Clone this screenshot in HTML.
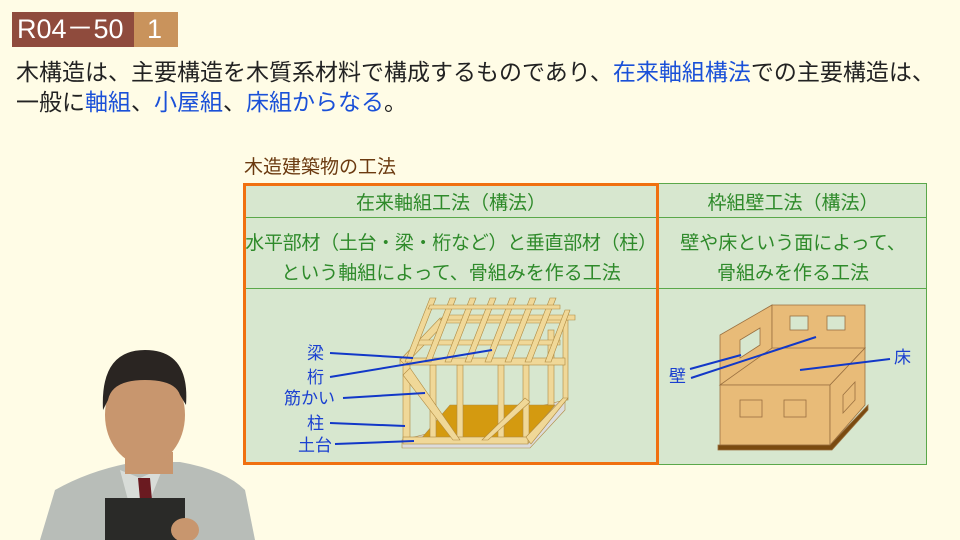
<!DOCTYPE html>
<html><head><meta charset="utf-8"><style>
body{margin:0;width:960px;height:540px;overflow:hidden;background:#fffce6;position:relative;font-family:"Liberation Sans","Noto Sans CJK JP",sans-serif;}
.a{position:absolute;white-space:nowrap;}
.b{color:#1a50d8}
.g{color:#2e8a2a;font-size:19px;text-align:center;position:absolute;white-space:nowrap;}
</style></head><body>
<div class="a" style="left:12px;top:12px;width:122px;height:35px;background:#8f4b3d"></div>
<div class="a" style="left:134px;top:12px;width:44px;height:35px;background:#c9935c"></div>
<div class="a" style="left:17px;top:13px;color:#fff;font-size:27px;line-height:33px;">R04－50</div>
<div class="a" style="left:147px;top:13px;color:#fff;font-size:27px;line-height:33px;">1</div>
<div class="a" style="left:16px;top:57px;font-size:23px;line-height:30px;color:#222;">木構造は、主要構造を木質系材料で構成するものであり、<span class="b">在来軸組構法</span>での主要構造は、</div>
<div class="a" style="left:16px;top:87px;font-size:23px;line-height:30px;color:#222;">一般に<span class="b">軸組</span>、<span class="b">小屋組</span>、<span class="b">床組からなる</span>。</div>
<div class="a" style="left:244px;top:152px;font-size:19px;color:#6b3a10;">木造建築物の工法</div>

<div class="a" style="left:243px;top:183px;width:684px;height:282px;background:#d7e7cf;border:1px solid #5aa84a;box-sizing:border-box"></div>
<div class="a" style="left:243px;top:217px;width:684px;height:1px;background:#5aa84a"></div>
<div class="a" style="left:243px;top:288px;width:684px;height:1px;background:#5aa84a"></div>
<div class="a" style="left:243px;top:183px;width:416px;height:282px;border:3px solid #f07010;box-sizing:border-box"></div>
<div class="g" style="left:243px;width:416px;top:188px;">在来軸組工法（構法）</div>
<div class="g" style="left:659px;width:268px;top:188px;">枠組壁工法（構法）</div>
<div class="g" style="left:243px;width:416px;top:228px;letter-spacing:-0.3px">水平部材（土台・梁・桁など）と垂直部材（柱）</div>
<div class="g" style="left:243px;width:416px;top:258px;">という軸組によって、骨組みを作る工法</div>
<div class="g" style="left:659px;width:268px;top:228px;">壁や床という面によって、</div>
<div class="g" style="left:659px;width:268px;top:258px;">骨組みを作る工法</div>

<svg class="a" style="left:0;top:0" width="960" height="540">
<g stroke="#b08a40" stroke-width="0.6">
<polygon points="402,448 530,448 565,410 565,400 402,440" fill="#dcdcdc"/>
<polygon points="420,440 525,440 555,405 450,405" fill="#d49a10"/>
<g fill="#f0d898">
<rect x="403" y="365" width="7" height="78"/><rect x="430" y="365" width="6" height="78"/>
<rect x="457" y="365" width="6" height="78"/><rect x="498" y="365" width="6" height="78"/><rect x="523" y="365" width="6" height="78"/>
<rect x="548" y="330" width="6" height="75"/><rect x="563" y="320" width="5" height="80"/>
<rect x="403" y="437" width="125" height="7"/>
<polygon points="526,437 563,398 568,398 531,444"/>
<polygon points="410,368 460,440 453,440 403,375"/>
<polygon points="482,440 525,398 530,402 488,440"/>
<rect x="400" y="358" width="165" height="7"/>
<polygon points="400,360 440,318 565,318 565,323 445,323 405,365"/>
<polygon points="420,340 560,340 560,345 415,345"/>
<polygon points="445,315 575,315 575,320 440,320"/>
<g>
<polygon points="405,362 430,298 436,298 411,362"/>
<polygon points="425,362 450,298 456,298 431,362"/>
<polygon points="445,362 470,298 476,298 451,362"/>
<polygon points="465,362 490,298 496,298 471,362"/>
<polygon points="485,362 510,298 516,298 491,362"/>
<polygon points="505,362 530,298 536,298 511,362"/>
<polygon points="525,362 550,298 556,298 531,362"/>
<polygon points="545,362 565,310 570,310 551,362"/>
</g>
<polygon points="430,305 560,305 560,309 428,309"/>
</g></g>
<g stroke="#1238c8" stroke-width="2" fill="none">
<line x1="330" y1="353" x2="413" y2="358"/>
<line x1="330" y1="377" x2="492" y2="350"/>
<line x1="343" y1="398" x2="425" y2="393"/>
<line x1="330" y1="423" x2="405" y2="426"/>
<line x1="335" y1="444" x2="414" y2="441"/>
</g>
<g fill="#1a40d0" font-size="17" font-family="Liberation Sans,Noto Sans CJK JP,sans-serif">
<text x="307" y="359">梁</text><text x="307" y="383">桁</text><text x="284" y="404">筋かい</text>
<text x="307" y="429">柱</text><text x="298" y="451">土台</text></g>
<g stroke="#9a7040" stroke-width="0.8" fill="#e8bb78">
<polygon points="720,385 772,355 772,305 720,335"/>
<polygon points="772,305 865,305 865,349 772,349"/>
<polygon points="720,385 830,385 865,348 772,348"/>
<polygon points="720,385 830,385 830,445 720,445"/>
<polygon points="830,385 865,348 865,405 830,445"/>
<polygon points="718,445 830,445 868,405 868,410 832,450 718,450" fill="#7a4a10"/>
<rect x="790" y="316" width="18" height="14" fill="#d7e7cf"/><rect x="827" y="316" width="18" height="14" fill="#d7e7cf"/>
<polygon points="740,340 760,328 760,345 740,358" fill="#d7e7cf"/>
<rect x="740" y="400" width="22" height="17" fill="none"/><rect x="784" y="400" width="22" height="17" fill="none"/>
<polygon points="843,395 855,382 855,400 843,413" fill="none"/>
</g>
<g stroke="#1238c8" stroke-width="2"><line x1="690" y1="369" x2="741" y2="355"/><line x1="691" y1="378" x2="816" y2="337"/><line x1="800" y1="370" x2="890" y2="359"/></g>
<g fill="#1a40d0" font-size="17" font-family="Liberation Sans,Noto Sans CJK JP,sans-serif"><text x="669" y="382">壁</text><text x="894" y="363">床</text></g>
<path d="M40,540 L55,490 Q90,470 135,462 L180,462 Q225,470 245,490 L255,540Z" fill="#b8bdb8"/>
<path d="M120,470 L140,478 L158,470 L162,470 L150,500 L128,500Z" fill="#d8dcd8"/>
<path d="M138,478 L150,478 L152,500 L140,500Z" fill="#6a1a20"/>
<rect x="125" y="452" width="48" height="22" fill="#c8966e"/>
<ellipse cx="145" cy="415" rx="40" ry="50" fill="#c8966e"/>
<path d="M103,410 Q100,350 145,350 Q190,350 186,405 L180,395 Q175,380 145,380 Q112,380 108,400Z" fill="#2a2522"/>
<rect x="105" y="498" width="80" height="42" fill="#2a2a28"/>
<ellipse cx="185" cy="530" rx="14" ry="12" fill="#c8966e"/>
</svg>
</body></html>
